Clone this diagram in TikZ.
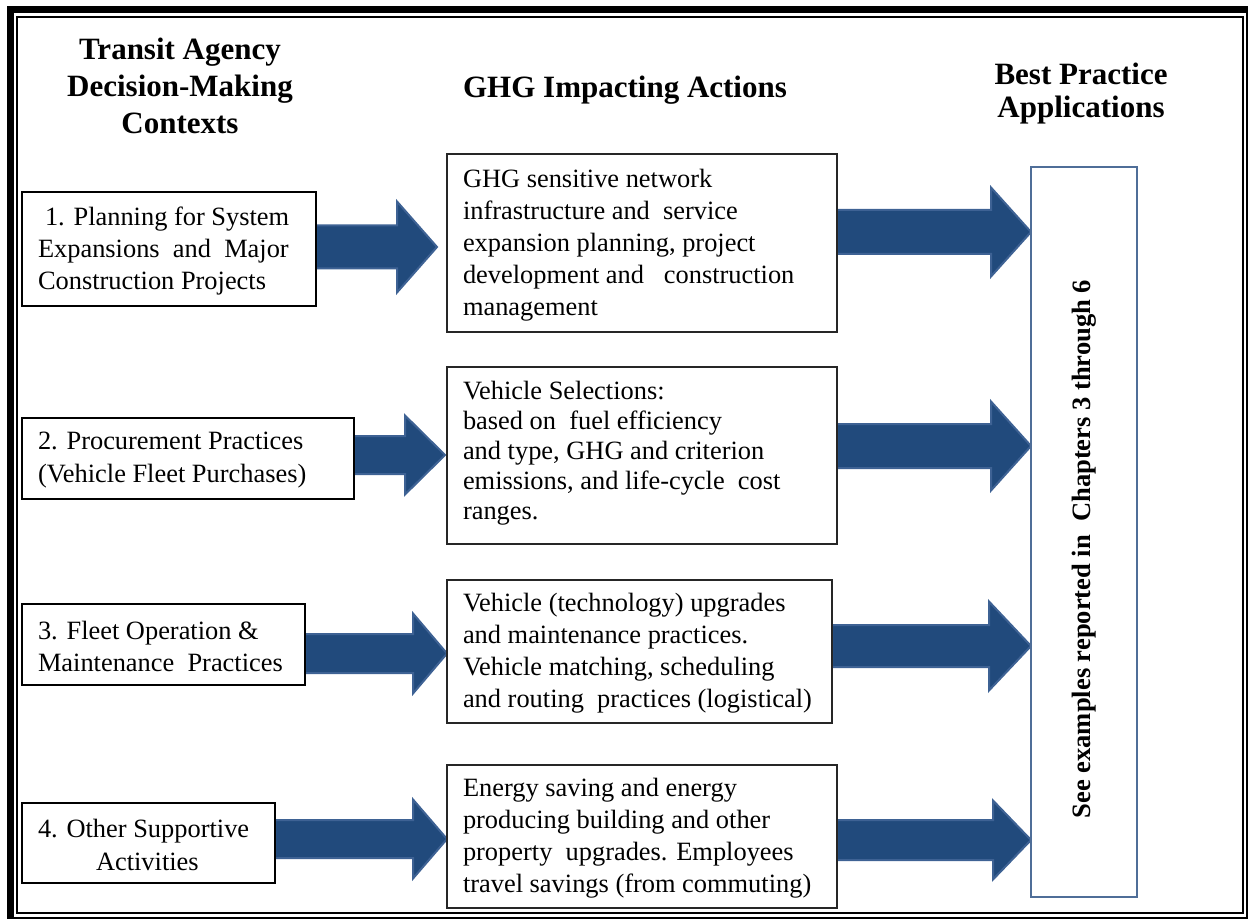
\documentclass[tikz,border=0pt]{standalone}
\usepackage{fontspec}
\setmainfont{Liberation Serif}
\usetikzlibrary{calc,backgrounds}
\definecolor{arrfill}{RGB}{33,74,124}
\definecolor{arredge}{RGB}{62,98,148}
\definecolor{rboxcol}{RGB}{79,110,152}
\newcommand\bodyfont{\fontsize{19.8pt}{24pt}\selectfont}
\newcommand\blockarrow[5]{%
  \path[blockarr] let \p1=(#1), \p2=(#2) in
    (\x1,{\y1+#3*0.75pt}) -- ({\x2-#5*0.75pt},{\y1+#3*0.75pt}) --
    ({\x2-#5*0.75pt},{\y1+#4*0.75pt}) -- (\x2,\y1) --
    ({\x2-#5*0.75pt},{\y1-#4*0.75pt}) -- ({\x2-#5*0.75pt},{\y1-#3*0.75pt}) --
    (\x1,{\y1-#3*0.75pt}) -- cycle;}
\tikzset{
  every node/.style={inner sep=0pt, outer sep=0pt},
  lbox/.style={draw=black, fill=white, line width=2.2pt, rectangle},
  mbox/.style={draw=black!85, fill=white, line width=1.1pt, rectangle},
  rbox/.style={draw=rboxcol, fill=white, line width=1.1pt, rectangle},
  btext/.style={align=left, anchor=west, font=\bodyfont},
  blockarr/.style={fill=arrfill, draw=arredge, line width=1.5pt, line join=miter},
  heading/.style={align=center, font=\bfseries}
}
\begin{document}
\begin{tikzpicture}[x=0.75pt,y=-0.75pt]
\useasboundingbox (0,0) rectangle (1248,919);
% frame
\draw[line width=5.25pt] (10.5,10) rectangle (1249.5,920);
\draw[line width=1.5pt] (17,17) rectangle (1243,913);

% headings
\node[heading, anchor=north, font=\fontsize{23.25pt}{27.75pt}\selectfont\bfseries] (h1) at (180,37.5) {Transit Agency\\Decision-Making\\Contexts};
\node[heading, anchor=base, font=\fontsize{23.25pt}{27.75pt}\selectfont\bfseries] (h2) at (625,98) {GHG Impacting Actions};
\node[heading, anchor=north, font=\fontsize{23.25pt}{24.75pt}\selectfont\bfseries] (h3) at (1081,63) {Best Practice\\Applications};

% left boxes
\node[lbox, minimum width=220.5pt, minimum height=85.5pt] (L1) at (169,249) {};
\node[lbox, minimum width=249pt, minimum height=60.75pt] (L2) at (188,458.5) {};
\node[lbox, minimum width=212.25pt, minimum height=60.75pt] (L3) at (163.5,644.5) {};
\node[lbox, minimum width=189.75pt, minimum height=60pt] (L4) at (148.5,843) {};

\node[btext] (L1t) at ($(L1.west)+(16,2)$) {\hspace*{5.25pt}1. Planning for System\\Expansions\ \ and\ \ Major\\Construction Projects};
\node[btext, font=\fontsize{19.8pt}{24.75pt}\selectfont] (L2t) at ($(L2.west)+(16,2)$) {2. Procurement Practices\\(Vehicle Fleet Purchases)};
\node[btext] (L3t) at ($(L3.west)+(16,2)$) {3. Fleet Operation \&\\Maintenance\ \ Practices};
\node[btext, font=\fontsize{19.8pt}{24.75pt}\selectfont] (L4t) at ($(L4.west)+(16,2)$) {4. Other Supportive\\\hspace*{43.5pt}Activities};

% middle boxes
\node[mbox, minimum width=292.5pt, minimum height=133.5pt] (M1) at (642,243) {};
\node[mbox, minimum width=292.5pt, minimum height=132.75pt] (M2) at (642,455.5) {};
\node[mbox, minimum width=288.75pt, minimum height=107.25pt] (M3) at (639.5,651.5) {};
\node[mbox, minimum width=292.5pt, minimum height=107.25pt] (M4) at (642,836.5) {};

\node[btext] (M1t) at ($(M1.west)+(16,2)$) {GHG sensitive network\\infrastructure and\ \ service\\expansion planning, project\\development and\ \ \ construction\\management};
\node[btext, font=\fontsize{19.8pt}{22.5pt}\selectfont] (M2t) at ($(M2.west)+(16,-2)$) {Vehicle Selections:\\based on\ \ fuel efficiency\\and type, GHG and criterion\\emissions, and life-cycle\ \ cost\\ranges.};
\node[btext] (M3t) at ($(M3.west)+(16,2)$) {Vehicle (technology) upgrades\\and maintenance practices.\\Vehicle matching, scheduling\\and routing\ \ practices\ (logistical)};
\node[btext] (M4t) at ($(M4.west)+(16,2)$) {Energy saving and energy\\producing building and other\\property\ \ upgrades. Employees\\travel savings (from commuting)};

% right box
\node[rbox, minimum width=79.5pt, minimum height=547.5pt] (R) at (1084,532) {};
\node[rotate=90, font=\fontsize{19.9pt}{24pt}\selectfont\bfseries] (Rt) at (1084,549) {See examples reported in\ \ Chapters 3 through 6};

% arrow levels
\coordinate (ya1) at (0,247);
\coordinate (ya2) at (0,455);
\coordinate (ya3) at (0,653.5);
\coordinate (ya4) at (0,839);
\coordinate (yb1) at (0,232);
\coordinate (yb2) at (0,446);
\coordinate (yb3) at (0,646);
\coordinate (yb4) at (0,840);

\begin{pgfonlayer}{background}
\blockarrow{L1.east |- ya1}{$(M1.west |- ya1)+(-10,0)$}{21.5}{45.5}{40}
\blockarrow{L2.east |- ya2}{$(M2.west |- ya2)+(-2,0)$}{19}{39.5}{40}
\blockarrow{L3.east |- ya3}{M3.west |- ya3}{19.5}{40}{34}
\blockarrow{L4.east |- ya4}{M4.west |- ya4}{19}{39.5}{34}
\blockarrow{M1.east |- yb1}{R.west |- yb1}{22}{44.5}{40}
\blockarrow{M2.east |- yb2}{R.west |- yb2}{22}{44.5}{40}
\blockarrow{M3.east |- yb3}{R.west |- yb3}{21}{44.5}{42}
\blockarrow{M4.east |- yb4}{R.west |- yb4}{20}{39.5}{38}
\end{pgfonlayer}
\end{tikzpicture}
\end{document}
